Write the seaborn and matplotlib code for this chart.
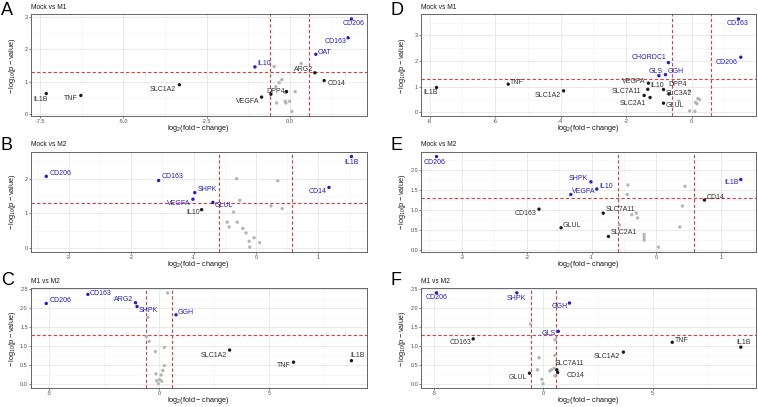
import numpy as np
import pandas as pd
import matplotlib
matplotlib.use("Agg")
import matplotlib.pyplot as plt
import seaborn as sns
from matplotlib.ticker import MultipleLocator, FormatStrFormatter

# volcano panels: labelled genes (sig = blue) and unlabelled background genes (gray)

# A - Mock vs M1
A_genes = ["IL1B", "TNF", "SLC1A2", "VEGFA", "IL10", "DPP4", "", "ARG2", "CD14", "OAT", "CD163", "CD206"]
A_lfc = [-7.32, -6.28, -3.32, -0.85, -1.05, -0.10, -0.57, 0.75, 1.03, 0.78, 1.75, 1.85]
A_logp = [0.63, 0.57, 0.90, 0.52, 1.45, 0.69, 0.61, 1.27, 1.03, 1.84, 2.35, 2.93]
A_sig = [0, 0, 0, 0, 1, 0, 0, 0, 0, 1, 1, 1]
A_bg_x = [-0.47, 0.34, -0.24, -0.32, -0.42, 0.16, -0.14, -0.40, -0.14, -0.12, -0.01, 0.06]
A_bg_y = [1.46, 1.56, 1.06, 0.97, 0.84, 0.69, 0.66, 0.34, 0.39, 0.34, 0.39, 0.08]

# D - Mock vs M1
D_genes = ["IL1B", "TNF", "SLC1A2", "CD163", "CD206", "CHORDC1", "GLS", "GGH", "VEGFA",
           "IL10", "SLC7A11", "SLC2A1", "DPP4", "SLC3A2", "GLUL"]
D_lfc = [-7.79, -5.60, -3.91, 1.43, 1.50, -0.71, -1.00, -0.80, -1.32,
         -1.34, -1.45, -1.27, -0.86, -0.69, -0.86]
D_logp = [0.97, 1.10, 0.84, 3.64, 2.15, 1.94, 1.43, 1.47, 1.14,
          0.90, 0.66, 0.58, 0.89, 0.72, 0.36]
D_sig = [0, 0, 0, 1, 1, 1, 1, 1, 0, 0, 0, 0, 0, 0, 0]
D_bg_x = [-0.08, 0.12, 0.19, 0.24, -0.39, -0.06, 0.10, 0.16]
D_bg_y = [0.85, 0.38, 0.54, 0.50, 0.44, 0.06, 0.04, 0.34]

# B - Mock vs M2
B_genes = ["CD206", "CD163", "SHPK", "VEGFA", "GLUL", "IL10", "IL1B", "CD14"]
B_lfc = [-3.36, -1.56, -0.98, -1.01, -0.69, -0.87, 1.53, 1.17]
B_logp = [2.07, 1.95, 1.60, 1.41, 1.32, 1.11, 2.64, 1.75]
B_sig = [1, 1, 1, 1, 1, 0, 1, 1]
B_bg_x = [-0.31, 0.35, -0.26, 0.24, 0.42, -0.36, -0.46, -0.30, -0.43, -0.21, -0.16, -0.11, -0.03, 0.06, -0.10]
B_bg_y = [2.00, 1.94, 1.38, 1.22, 1.14, 1.04, 0.75, 0.75, 0.61, 0.57, 0.44, 0.20, 0.30, 0.16, 0.03]

# E - Mock vs M2
E_genes = ["CD206", "SHPK", "IL10", "VEGFA", "IL1B", "CD14", "CD163", "SLC7A11", "GLUL", "SLC2A1"]
E_lfc = [-3.39, -1.01, -0.92, -1.32, 1.30, 0.74, -1.81, -0.82, -1.47, -0.74]
E_logp = [2.35, 1.71, 1.53, 1.39, 1.77, 1.25, 1.02, 0.92, 0.55, 0.33]
E_sig = [1, 1, 1, 1, 1, 0, 0, 0, 0, 0]
E_bg_x = [-0.44, 0.44, -0.45, 0.40, -0.31, -0.38, -0.29, -0.57, 0.36, -0.19, -0.19, -0.19, 0.03]
E_bg_y = [1.63, 1.60, 1.39, 1.10, 0.92, 0.88, 0.80, 0.62, 0.57, 0.38, 0.31, 0.24, 0.06]

# C - M1 vs M2
C_genes = ["CD206", "CD163", "ARG2", "SHPK", "GGH", "SLC1A2", "TNF", "IL1B"]
C_lfc = [-5.12, -3.23, -1.07, -1.00, 0.77, 3.20, 6.10, 8.73]
C_logp = [2.13, 2.37, 2.15, 2.05, 1.83, 0.90, 0.58, 0.62]
C_sig = [1, 1, 1, 1, 1, 0, 0, 0]
C_bg_x = [0.39, -0.51, -0.58, -0.45, 0.24, -0.17, 0.24, 0.17, -0.14, 0.09, 0.02, 0.12, -0.11, -0.03]
C_bg_y = [2.41, 1.76, 1.26, 1.13, 0.97, 0.86, 0.49, 0.36, 0.27, 0.24, 0.12, 0.08, 0.09, 0.01]

# F - M1 vs M2
F_genes = ["CD206", "SHPK", "GGH", "GLS", "CD163", "TNF", "IL1B", "SLC1A2", "GLUL", "SLC7A11", "CD14"]
F_lfc = [-4.90, -1.22, 1.19, 0.68, -3.22, 5.90, 9.04, 3.66, -0.64, 0.61, 0.65]
F_logp = [2.41, 2.41, 2.14, 1.39, 1.19, 1.10, 0.97, 0.84, 0.28, 0.37, 0.30]
F_sig = [1, 1, 1, 1, 0, 0, 0, 0, 0, 0, 0]
F_bg_x = [-0.59, 0.53, 0.52, -0.20, -0.27, 0.29, 0.36, 0.48, 0.52, -0.08, -0.02]
F_bg_y = [1.58, 1.17, 0.75, 0.69, 0.37, 0.34, 0.37, 0.41, 0.21, 0.12, 0.00]

P_CUT = 0.05
FC_CUT = 1.5

# label placement (pixel offsets from the point, text alignment)
A_nudge = {"IL1B": (-6, -6, "center"), "TNF": (-3, -3, "right"), "SLC1A2": (-3, -5, "right"),
           "VEGFA": (-2, -4, "right"), "IL10": (2, 3, "left"), "DPP4": (-2, 0, "right"),
           "ARG2": (-2, 3, "right"), "CD14": (3, -3, "left"), "OAT": (2, 2, "left"),
           "CD163": (-2, -4, "right"), "CD206": (2, -5, "center")}
D_nudge = {"IL1B": (-6, -5, "center"), "TNF": (2, 2, "left"), "SLC1A2": (-3, -5, "right"),
           "CD163": (-1, -5, "center"), "CD206": (-3, -5, "right"), "CHORDC1": (-2, 5, "right"),
           "GLS": (-3, 4, "center"), "GGH": (2, 3, "left"), "VEGFA": (-3, 2, "right"),
           "IL10": (3, 4, "left"), "SLC7A11": (-3, 4, "right"), "SLC2A1": (-4, -6, "right"),
           "DPP4": (5, 5, "left"), "SLC3A2": (-3, 0, "left"), "GLUL": (2, -2, "left")}
B_nudge = {"CD206": (3, 3, "left"), "CD163": (3, 4, "left"), "SHPK": (3, 3, "left"),
           "VEGFA": (-2, -4, "right"), "GLUL": (2, -3, "left"), "IL10": (-2, -3, "right"),
           "IL1B": (0, -6, "center"), "CD14": (-2, -4, "right")}
E_nudge = {"CD206": (-2, -6, "center"), "SHPK": (-3, 3, "right"), "IL10": (3, 2, "left"),
           "VEGFA": (1, 3, "left"), "IL1B": (-2, -3, "right"), "CD14": (2, 3, "left"),
           "CD163": (-3, -4, "right"), "SLC7A11": (2, 4, "left"), "GLUL": (2, 2, "left"),
           "SLC2A1": (2, 4, "left")}
C_nudge = {"CD206": (3, 3, "left"), "CD163": (2, 1, "left"), "ARG2": (-2, 3, "right"),
           "SHPK": (2, -4, "left"), "GGH": (2, 2, "left"), "SLC1A2": (-3, -5, "right"),
           "TNF": (-3, -3, "right"), "IL1B": (-1, 5, "left")}
F_nudge = {"CD206": (0, -5, "center"), "SHPK": (0, -6, "center"), "GGH": (-2, -3, "right"),
           "GLS": (-2, -2, "right"), "CD163": (-2, -4, "right"), "TNF": (3, 2, "left"),
           "IL1B": (3, 5, "center"), "SLC1A2": (-3, -4, "right"), "GLUL": (-2, -4, "right"),
           "SLC7A11": (-2, 6, "left"), "CD14": (9, -3, "left")}

sns.set_theme(style="whitegrid")
plt.rcParams['font.family'] = ['Liberation Sans', 'DejaVu Sans']
plt.rcParams['mathtext.default'] = 'regular'
plt.rcParams['axes.unicode_minus'] = False

BLUE = "#1f1fd0"
palette = {"bg": "#b5b5b5", "lab": "#1a1a1a", "sig": BLUE}

fig = plt.figure(figsize=(7.58, 4.07), dpi=100)
W, H = 758, 407


def volcano(ax, title, genes, lfc, logp, sig, bg_x, bg_y, nudge, xstep, ystep, xfmt, yfmt):
    pts = pd.DataFrame({
        "lfc": list(bg_x) + list(lfc),
        "logp": list(bg_y) + list(logp),
        "group": ["bg"] * len(bg_x) + ["sig" if s else "lab" for s in sig],
    })
    sns.scatterplot(data=pts, x="lfc", y="logp", hue="group", palette=palette,
                    s=6, linewidth=0, legend=False, ax=ax, zorder=3)
    ax.margins(0.05)

    red = dict(color="#e33b3b", lw=0.8, ls=(0, (3, 2)), zorder=2)
    ax.axhline(-np.log10(P_CUT), **red)
    ax.axvline(-np.log2(FC_CUT), **red)
    ax.axvline(np.log2(FC_CUT), **red)

    for g, x, y, s in zip(genes, lfc, logp, sig):
        if not g:
            continue
        dx, dy, ha = nudge[g]
        ax.annotate(g, (x, y), xytext=(dx, dy), textcoords="offset pixels",
                    ha=ha, va="center", fontsize=5, color=BLUE if s else "#333333", zorder=4)

    ax.xaxis.set_major_locator(MultipleLocator(xstep))
    ax.xaxis.set_minor_locator(MultipleLocator(xstep / 2))
    ax.yaxis.set_major_locator(MultipleLocator(ystep))
    ax.yaxis.set_minor_locator(MultipleLocator(ystep / 2))
    ax.xaxis.set_major_formatter(FormatStrFormatter(xfmt))
    ax.yaxis.set_major_formatter(FormatStrFormatter(yfmt))
    ax.grid(which="major", color="#e6e6e6", lw=0.6)
    ax.grid(which="minor", color="#f2f2f2", lw=0.4)
    ax.set_facecolor("white")
    for sp in ax.spines.values():
        sp.set_color("#666666")
        sp.set_linewidth(0.7)
    ax.tick_params(axis="both", which="major", labelsize=4, labelcolor="#4d4d4d",
                   length=1.5, width=0.5, color="#4d4d4d", pad=0.8, bottom=True, left=True)
    ax.set_xlabel(r"$log_2(fold - change)$", fontsize=5.3, color="#1a1a1a", va="center")
    ax.set_ylabel(r"$-\,log_{10}(p - value)$", fontsize=5.3, color="#1a1a1a", va="center")
    bb = ax.get_position()
    ax.xaxis.set_label_coords(0.5, -12.5 / (bb.height * H))
    ax.yaxis.set_label_coords(-18.5 / (bb.width * W), 0.5)
    ax.set_title(title, loc="left", fontsize=4.8, pad=4, color="#1a1a1a")


def panel(left, top, right, bottom):
    return fig.add_axes([left / W, 1 - bottom / H, (right - left) / W, (bottom - top) / H])


axA = panel(31, 14.3, 366.7, 116)
axD = panel(421.3, 14.3, 756, 116)
axB = panel(31, 152, 366.7, 251.7)
axE = panel(421.3, 152, 756, 251.7)
axC = panel(31, 288.3, 366.7, 388.3)
axF = panel(421.3, 288.3, 756, 388.3)

volcano(axA, "Mock vs M1", A_genes, A_lfc, A_logp, A_sig, A_bg_x, A_bg_y, A_nudge, 2.5, 1, "%.1f", "%d")
volcano(axD, "Mock vs M1", D_genes, D_lfc, D_logp, D_sig, D_bg_x, D_bg_y, D_nudge, 2, 1, "%d", "%d")
volcano(axB, "Mock vs M2", B_genes, B_lfc, B_logp, B_sig, B_bg_x, B_bg_y, B_nudge, 1, 1, "%d", "%d")
volcano(axE, "Mock vs M2", E_genes, E_lfc, E_logp, E_sig, E_bg_x, E_bg_y, E_nudge, 1, 0.5, "%d", "%.1f")
volcano(axC, "M1 vs M2", C_genes, C_lfc, C_logp, C_sig, C_bg_x, C_bg_y, C_nudge, 5, 0.5, "%d", "%.1f")
volcano(axF, "M1 vs M2", F_genes, F_lfc, F_logp, F_sig, F_bg_x, F_bg_y, F_nudge, 5, 0.5, "%d", "%.1f")

for letter, x, y in [("A", 1, 2), ("D", 390, 2), ("B", 1, 137), ("E", 390, 137), ("C", 1, 272), ("F", 390, 272)]:
    fig.text(x / W, 1 - y / H, letter, fontsize=13, va="top", ha="left", color="black")

fig.savefig("out.png", dpi=100)
